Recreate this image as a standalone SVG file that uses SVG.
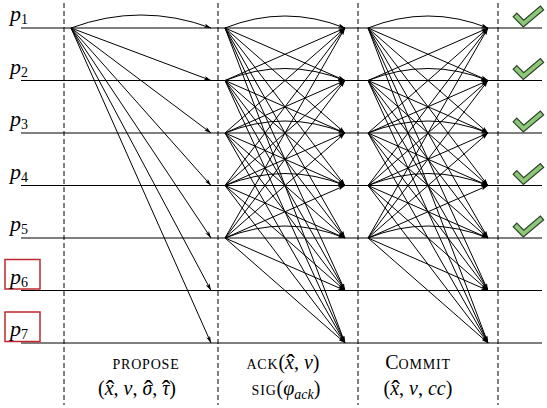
<svg xmlns="http://www.w3.org/2000/svg" width="547" height="408" viewBox="0 0 547 408">
<style>
.h{stroke:#000;stroke-width:1.2;fill:none}
.d{stroke:#000;stroke-width:1;stroke-dasharray:5,3;fill:none}
.a{stroke:#000;stroke-width:1;fill:none;marker-end:url(#ah)}
.lab{font-family:"Liberation Serif",serif;font-style:italic;font-size:22px;fill:#000}
.sub{font-size:14px;font-style:normal}
.box{fill:none;stroke:#c0282d;stroke-width:1.5}
.t{font-family:"Liberation Serif",serif;font-size:20px;fill:#000}
.sc{font-size:14px;letter-spacing:0.8px}
.i{font-style:italic}
.hat{font-size:26px;font-style:normal}
.ck{fill:#8cc878;stroke:#2d3f2a;stroke-width:1.2;stroke-linejoin:miter}
</style>
<defs>
<marker id="ah" viewBox="0 0 10 6" refX="10" refY="3" markerWidth="7" markerHeight="4.2" markerUnits="userSpaceOnUse" orient="auto">
<path d="M0,0 L10,3 L0,6 L2.5,3 z" fill="#000"/>
</marker>
<path id="check" class="ck" d="M516.8,13.2 L523.7,20.1 L540.4,6.1 L543.6,9.9 L523.3,26.9 L513.2,16.8 Z"/>
</defs>

<g id="timelines">
<line class="h" x1="21" y1="28" x2="542" y2="28"/>
<line class="h" x1="21" y1="80.5" x2="542" y2="80.5"/>
<line class="h" x1="21" y1="133" x2="542" y2="133"/>
<line class="h" x1="21" y1="185.5" x2="542" y2="185.5"/>
<line class="h" x1="21" y1="238" x2="542" y2="238"/>
<line class="h" x1="21" y1="290.5" x2="542" y2="290.5"/>
<line class="h" x1="21" y1="343" x2="542" y2="343"/>
</g>

<g id="phase-dividers">
<line class="d" x1="64" y1="3" x2="64" y2="405"/>
<line class="d" x1="218" y1="3" x2="218" y2="405"/>
<line class="d" x1="358" y1="3" x2="358" y2="405"/>
<line class="d" x1="498" y1="3" x2="498" y2="405"/>
</g>

<g id="p1"><text class="lab" x="10" y="21">p<tspan class="sub" dy="3">1</tspan></text></g>
<g id="p2"><text class="lab" x="10" y="73.5">p<tspan class="sub" dy="3">2</tspan></text></g>
<g id="p3"><text class="lab" x="10" y="126">p<tspan class="sub" dy="3">3</tspan></text></g>
<g id="p4"><text class="lab" x="10" y="178.5">p<tspan class="sub" dy="3">4</tspan></text></g>
<g id="p5"><text class="lab" x="10" y="231">p<tspan class="sub" dy="3">5</tspan></text></g>
<g id="p6"><rect class="box" x="5" y="259.5" width="35" height="29.5"/><text class="lab" x="10" y="283.5">p<tspan class="sub" dy="3">6</tspan></text></g>
<g id="p7"><rect class="box" x="5" y="312" width="35" height="29.5"/><text class="lab" x="10" y="336">p<tspan class="sub" dy="3">7</tspan></text></g>

<g id="connectors">
<!-- PROPOSE -->
<path class="a" d="M71,28 Q141,2 211,28"/>
<path class="a" d="M71,28 L211,80.5"/>
<path class="a" d="M71,28 L211,133"/>
<path class="a" d="M71,28 L211,185.5"/>
<path class="a" d="M71,28 L211,238"/>
<path class="a" d="M71,28 L211,290.5"/>
<path class="a" d="M71,28 L211,343"/>
<!-- ACK from p1 -->
<path class="a" d="M225,28 Q285,4 345,28"/>
<path class="a" d="M225,28 L345,80.5"/>
<path class="a" d="M225,28 L345,133"/>
<path class="a" d="M225,28 L345,185.5"/>
<path class="a" d="M225,28 L345,238"/>
<path class="a" d="M225,28 L345,290.5"/>
<path class="a" d="M225,28 L345,343"/>
<!-- ACK from p2 -->
<path class="a" d="M225,80.5 L345,28"/>
<path class="a" d="M225,80.5 Q285,56.5 345,80.5"/>
<path class="a" d="M225,80.5 L345,133"/>
<path class="a" d="M225,80.5 L345,185.5"/>
<path class="a" d="M225,80.5 L345,238"/>
<path class="a" d="M225,80.5 L345,290.5"/>
<path class="a" d="M225,80.5 L345,343"/>
<!-- ACK from p3 -->
<path class="a" d="M225,133 L345,28"/>
<path class="a" d="M225,133 L345,80.5"/>
<path class="a" d="M225,133 Q285,109 345,133"/>
<path class="a" d="M225,133 L345,185.5"/>
<path class="a" d="M225,133 L345,238"/>
<path class="a" d="M225,133 L345,290.5"/>
<path class="a" d="M225,133 L345,343"/>
<!-- ACK from p4 -->
<path class="a" d="M225,185.5 L345,28"/>
<path class="a" d="M225,185.5 L345,80.5"/>
<path class="a" d="M225,185.5 L345,133"/>
<path class="a" d="M225,185.5 Q285,161.5 345,185.5"/>
<path class="a" d="M225,185.5 L345,238"/>
<path class="a" d="M225,185.5 L345,290.5"/>
<path class="a" d="M225,185.5 L345,343"/>
<!-- ACK from p5 -->
<path class="a" d="M225,238 L345,28"/>
<path class="a" d="M225,238 L345,80.5"/>
<path class="a" d="M225,238 L345,133"/>
<path class="a" d="M225,238 L345,185.5"/>
<path class="a" d="M225,238 Q285,214 345,238"/>
<path class="a" d="M225,238 L345,290.5"/>
<path class="a" d="M225,238 L345,343"/>
<!-- COMMIT from p1 -->
<path class="a" d="M368,28 Q428,4 488,28"/>
<path class="a" d="M368,28 L488,80.5"/>
<path class="a" d="M368,28 L488,133"/>
<path class="a" d="M368,28 L488,185.5"/>
<path class="a" d="M368,28 L488,238"/>
<path class="a" d="M368,28 L488,290.5"/>
<path class="a" d="M368,28 L488,343"/>
<!-- COMMIT from p2 -->
<path class="a" d="M368,80.5 L488,28"/>
<path class="a" d="M368,80.5 Q428,56.5 488,80.5"/>
<path class="a" d="M368,80.5 L488,133"/>
<path class="a" d="M368,80.5 L488,185.5"/>
<path class="a" d="M368,80.5 L488,238"/>
<path class="a" d="M368,80.5 L488,290.5"/>
<path class="a" d="M368,80.5 L488,343"/>
<!-- COMMIT from p3 -->
<path class="a" d="M368,133 L488,28"/>
<path class="a" d="M368,133 L488,80.5"/>
<path class="a" d="M368,133 Q428,109 488,133"/>
<path class="a" d="M368,133 L488,185.5"/>
<path class="a" d="M368,133 L488,238"/>
<path class="a" d="M368,133 L488,290.5"/>
<path class="a" d="M368,133 L488,343"/>
<!-- COMMIT from p4 -->
<path class="a" d="M368,185.5 L488,28"/>
<path class="a" d="M368,185.5 L488,80.5"/>
<path class="a" d="M368,185.5 L488,133"/>
<path class="a" d="M368,185.5 Q428,161.5 488,185.5"/>
<path class="a" d="M368,185.5 L488,238"/>
<path class="a" d="M368,185.5 L488,290.5"/>
<path class="a" d="M368,185.5 L488,343"/>
<!-- COMMIT from p5 -->
<path class="a" d="M368,238 L488,28"/>
<path class="a" d="M368,238 L488,80.5"/>
<path class="a" d="M368,238 L488,133"/>
<path class="a" d="M368,238 L488,185.5"/>
<path class="a" d="M368,238 Q428,214 488,238"/>
<path class="a" d="M368,238 L488,290.5"/>
<path class="a" d="M368,238 L488,343"/>
</g>

<g id="checks">
<use href="#check"/>
<use href="#check" transform="translate(0,52.5)"/>
<use href="#check" transform="translate(0,105)"/>
<use href="#check" transform="translate(0,157.5)"/>
<use href="#check" transform="translate(0,210)"/>
</g>

<g id="label-propose">
<text class="t" x="146" y="369" text-anchor="middle"><tspan class="sc">PROPOSE</tspan></text>
<text class="t" x="137" y="395" text-anchor="middle">(<tspan class="i">x</tspan><tspan class="hat" dx="-7.8" dy="3">ˆ</tspan><tspan dx="-0.9" dy="-3">, </tspan><tspan class="i">v</tspan>, <tspan class="i">σ</tspan><tspan class="hat" dx="-8.3" dy="3">ˆ</tspan><tspan dx="-0.4" dy="-3">, </tspan><tspan class="i">τ</tspan><tspan class="hat" dx="-7.7" dy="3">ˆ</tspan><tspan dx="-1" dy="-3">)</tspan></text>
</g>
<g id="label-ack">
<text class="t" x="283" y="369" text-anchor="middle"><tspan class="sc">ACK</tspan>(<tspan class="i">x</tspan><tspan class="hat" dx="-7.8" dy="3">ˆ</tspan><tspan dx="-0.9" dy="-3">, </tspan><tspan class="i">v</tspan>)</text>
<text class="t" x="286" y="395" text-anchor="middle"><tspan class="sc">SIG</tspan>(<tspan class="i">φ</tspan><tspan class="i" font-size="14" dy="4">ack</tspan><tspan dy="-4">)</tspan></text>
</g>
<g id="label-commit">
<text class="t" x="418" y="369" text-anchor="middle">C<tspan class="sc">OMMIT</tspan></text>
<text class="t" x="418" y="395" text-anchor="middle">(<tspan class="i">x</tspan><tspan class="hat" dx="-7.8" dy="3">ˆ</tspan><tspan dx="-0.9" dy="-3">, </tspan><tspan class="i">v</tspan>, <tspan class="i">cc</tspan>)</text>
</g>
</svg>
